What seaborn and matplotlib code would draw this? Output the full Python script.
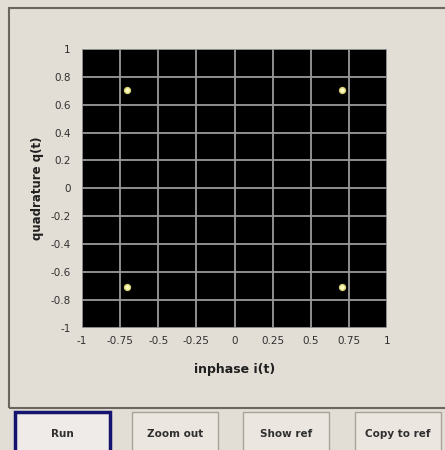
import matplotlib
matplotlib.use("Agg")
import matplotlib.pyplot as plt
import seaborn as sns
from matplotlib.patches import Rectangle

# constellation points (QPSK)
inphase = [-0.707, 0.707, -0.707, 0.707]
quadrature = [0.707, 0.707, -0.707, -0.707]

x_ticks = [-1, -0.75, -0.5, -0.25, 0, 0.25, 0.5, 0.75, 1]
x_tick_labels = ["-1", "-0.75", "-0.5", "-0.25", "0", "0.25", "0.5", "0.75", "1"]
y_ticks = [-1, -0.8, -0.6, -0.4, -0.2, 0, 0.2, 0.4, 0.6, 0.8, 1]
y_tick_labels = ["-1", "-0.8", "-0.6", "-0.4", "-0.2", "0", "0.2", "0.4", "0.6", "0.8", "1"]
buttons = ["Run", "Zoom out", "Show ref", "Copy to ref"]

sns.set_theme(style="dark")
plt.rcParams["font.family"] = ["DejaVu Sans"]

W, H = 445, 450
bg = "#e2ddd5"
fig = plt.figure(figsize=(W / 100, H / 100), dpi=100, facecolor=bg)


def px(x0, y0, x1, y1):
    # pixel box -> figure fraction rect
    return (x0 / W, 1 - y1 / H, (x1 - x0) / W, (y1 - y0) / H)


# panel frame (outline only)
r = px(9, 8, 460, 408)
fig.patches.append(Rectangle(r[:2], r[2], r[3], transform=fig.transFigure, facecolor="none",
                             edgecolor="#6b655d", linewidth=1.5))

ax = fig.add_axes(px(82, 49, 387, 327.5))
ax.set_facecolor("black")
sns.scatterplot(x=inphase, y=quadrature, ax=ax, s=18, color="#fdfcc0",
                edgecolor="#d8d070", linewidth=1.0, zorder=5)

ax.set_xlim(-1, 1)
ax.set_ylim(-1, 1)
ax.set_xticks(x_ticks)
ax.set_xticklabels(x_tick_labels)
ax.set_yticks(y_ticks)
ax.set_yticklabels(y_tick_labels)
ax.grid(True, color="#9a9a9a", linewidth=1.3)
ax.set_axisbelow(True)
for s in ax.spines.values():
    s.set_visible(False)
ax.tick_params(axis="both", length=0, labelsize=7.5, colors="#303030")
ax.tick_params(axis="y", pad=8)
ax.tick_params(axis="x", pad=6)
ax.set_xlabel("inphase i(t)", fontsize=9, fontweight="bold", color="#202020", labelpad=12)
ax.set_ylabel("quadrature q(t)", fontsize=8.5, fontweight="bold", color="#202020", labelpad=5)

# buttons along the bottom
boxes = [(15, 412, 110), (132, 412, 218), (243, 412, 329), (355, 412, 441)]
for i, (label, (x0, y0, x1)) in enumerate(zip(buttons, boxes)):
    r = px(x0, y0, x1, 455)
    if i == 0:
        fig.patches.append(Rectangle(r[:2], r[2], r[3], transform=fig.transFigure,
                                     facecolor="#efebe8", edgecolor="#14146e", linewidth=2.5))
    else:
        fig.patches.append(Rectangle(r[:2], r[2], r[3], transform=fig.transFigure,
                                     facecolor="#ebe6e0", edgecolor="#a8a29a", linewidth=1))
    fig.text((x0 + x1) / 2 / W, 1 - 434 / H, label, ha="center", va="center",
             fontsize=7.5, fontweight="bold", color="#303030")

fig.savefig("out.png", dpi=100, facecolor=bg)
